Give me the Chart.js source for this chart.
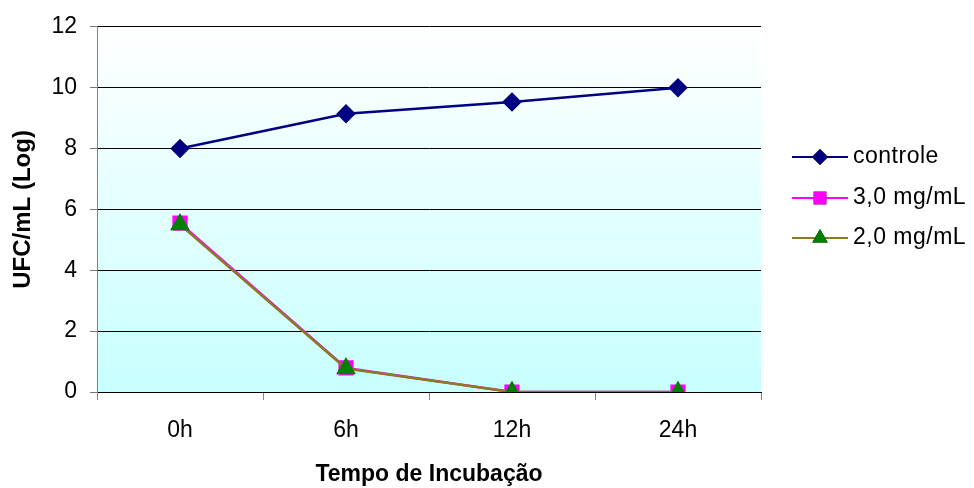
<!DOCTYPE html>
<html>
<head>
<meta charset="utf-8">
<script src="https://cdn.jsdelivr.net/npm/chart.js@4"></script>
<style>
  html, body { margin: 0; padding: 0; background: #fff; }
  #wrap { width: 974px; height: 488px; }
</style>
</head>
<body>
<div id="wrap"><canvas id="chart" width="974" height="488"></canvas></div>
<script>
// tempo de incubação
const labels = ["0h", "6h", "12h", "24h"];
// UFC/mL (Log)
const controle = [8.0, 9.14, 9.53, 10.0];
const dose30 = [5.55, 0.79, 0, 0];
const dose20 = [5.5, 0.77, 0, 0];

const FONT = "'Liberation Sans', Arial, sans-serif";

// light cyan gradient behind the plot
const bgPlugin = {
  id: "bg",
  beforeDraw(chart) {
    const { ctx, chartArea: a } = chart;
    const g = ctx.createLinearGradient(0, a.top, 0, a.bottom);
    g.addColorStop(0, "#ffffff");
    g.addColorStop(1, "#c8ffff");
    ctx.save();
    ctx.fillStyle = g;
    ctx.fillRect(a.left, a.top, a.right - a.left, a.bottom - a.top);
    ctx.restore();
  }
};

// legend with a line through the marker, like the original
const legendPlugin = {
  id: "lineLegend",
  afterDraw(chart) {
    const ctx = chart.ctx;
    const x0 = 792, x1 = 848;
    const ys = [157, 198, 238];
    ctx.save();
    chart.data.datasets.forEach((ds, i) => {
      const y = ys[i];
      ctx.strokeStyle = ds.borderColor;
      ctx.lineWidth = 2;
      ctx.beginPath();
      ctx.moveTo(x0, y);
      ctx.lineTo(x1, y);
      ctx.stroke();
      Chart.helpers.drawPoint(ctx, {
        pointStyle: ds.pointStyle,
        radius: ds.pointRadius,
        borderWidth: 0
      }, (x0 + x1) / 2, y);
      ctx.fillStyle = ds.pointBackgroundColor;
      ctx.fill();
      ctx.fillStyle = "#000";
      ctx.font = "23px " + FONT;
      ctx.letterSpacing = "0.5px";
      ctx.textBaseline = "middle";
      ctx.textAlign = "left";
      ctx.fillText(ds.label, 853, y);
    });
    ctx.restore();
  }
};

new Chart(document.getElementById("chart").getContext("2d"), {
  type: "line",
  data: {
    labels: labels,
    datasets: [
      {
        label: "controle",
        data: controle,
        borderColor: "#000080",
        backgroundColor: "#000080",
        pointBackgroundColor: "#000080",
        pointBorderColor: "#000080",
        pointStyle: "rectRot",
        pointRadius: 8,
        borderWidth: 2.5,
        order: 0
      },
      {
        label: "3,0 mg/mL",
        data: dose30,
        borderColor: "#ff00ff",
        backgroundColor: "#ff00ff",
        pointBackgroundColor: "#ff00ff",
        pointBorderColor: "#ff00ff",
        pointStyle: "rect",
        pointRadius: 9,
        borderWidth: 2.5,
        order: 2
      },
      {
        label: "2,0 mg/mL",
        data: dose20,
        borderColor: "#8a7a20",
        backgroundColor: "#008000",
        pointBackgroundColor: "#008000",
        pointBorderColor: "#008000",
        pointStyle: "triangle",
        pointRadius: 9,
        borderWidth: 2.5,
        order: 1
      }
    ]
  },
  options: {
    responsive: false,
    animation: false,
    layout: { padding: { left: 0, right: 213, top: 24, bottom: 0 } },
    plugins: {
      legend: { display: false },
      tooltip: { enabled: false }
    },
    scales: {
      x: {
        offset: true,
        afterFit: (s) => { s.height = 96; },
        grid: {
          offset: true,
          drawOnChartArea: false,
          tickLength: 8,
          color: "#888"
        },
        border: { color: "#000", width: 1 },
        ticks: {
          color: "#000",
          padding: 17,
          font: { family: FONT, size: 23 }
        },
        title: {
          display: true,
          text: "Tempo de Incubação",
          color: "#000",
          padding: { top: 0, bottom: 0 },
          font: { family: FONT, size: 23, weight: "bold" }
        }
      },
      y: {
        min: 0,
        max: 12,
        afterFit: (s) => { s.width = 97; },
        grid: {
          color: "#000",
          tickColor: "#777",
          tickLength: 7
        },
        border: { color: "#808080", width: 1 },
        ticks: {
          stepSize: 2,
          color: "#000",
          padding: 13,
          font: { family: FONT, size: 23 }
        },
        title: {
          display: true,
          text: "UFC/mL (Log)",
          color: "#000",
          padding: { top: 9, bottom: 0 },
          font: { family: FONT, size: 24, weight: "bold" }
        }
      }
    }
  },
  plugins: [bgPlugin, legendPlugin]
});
</script>
</body>
</html>
